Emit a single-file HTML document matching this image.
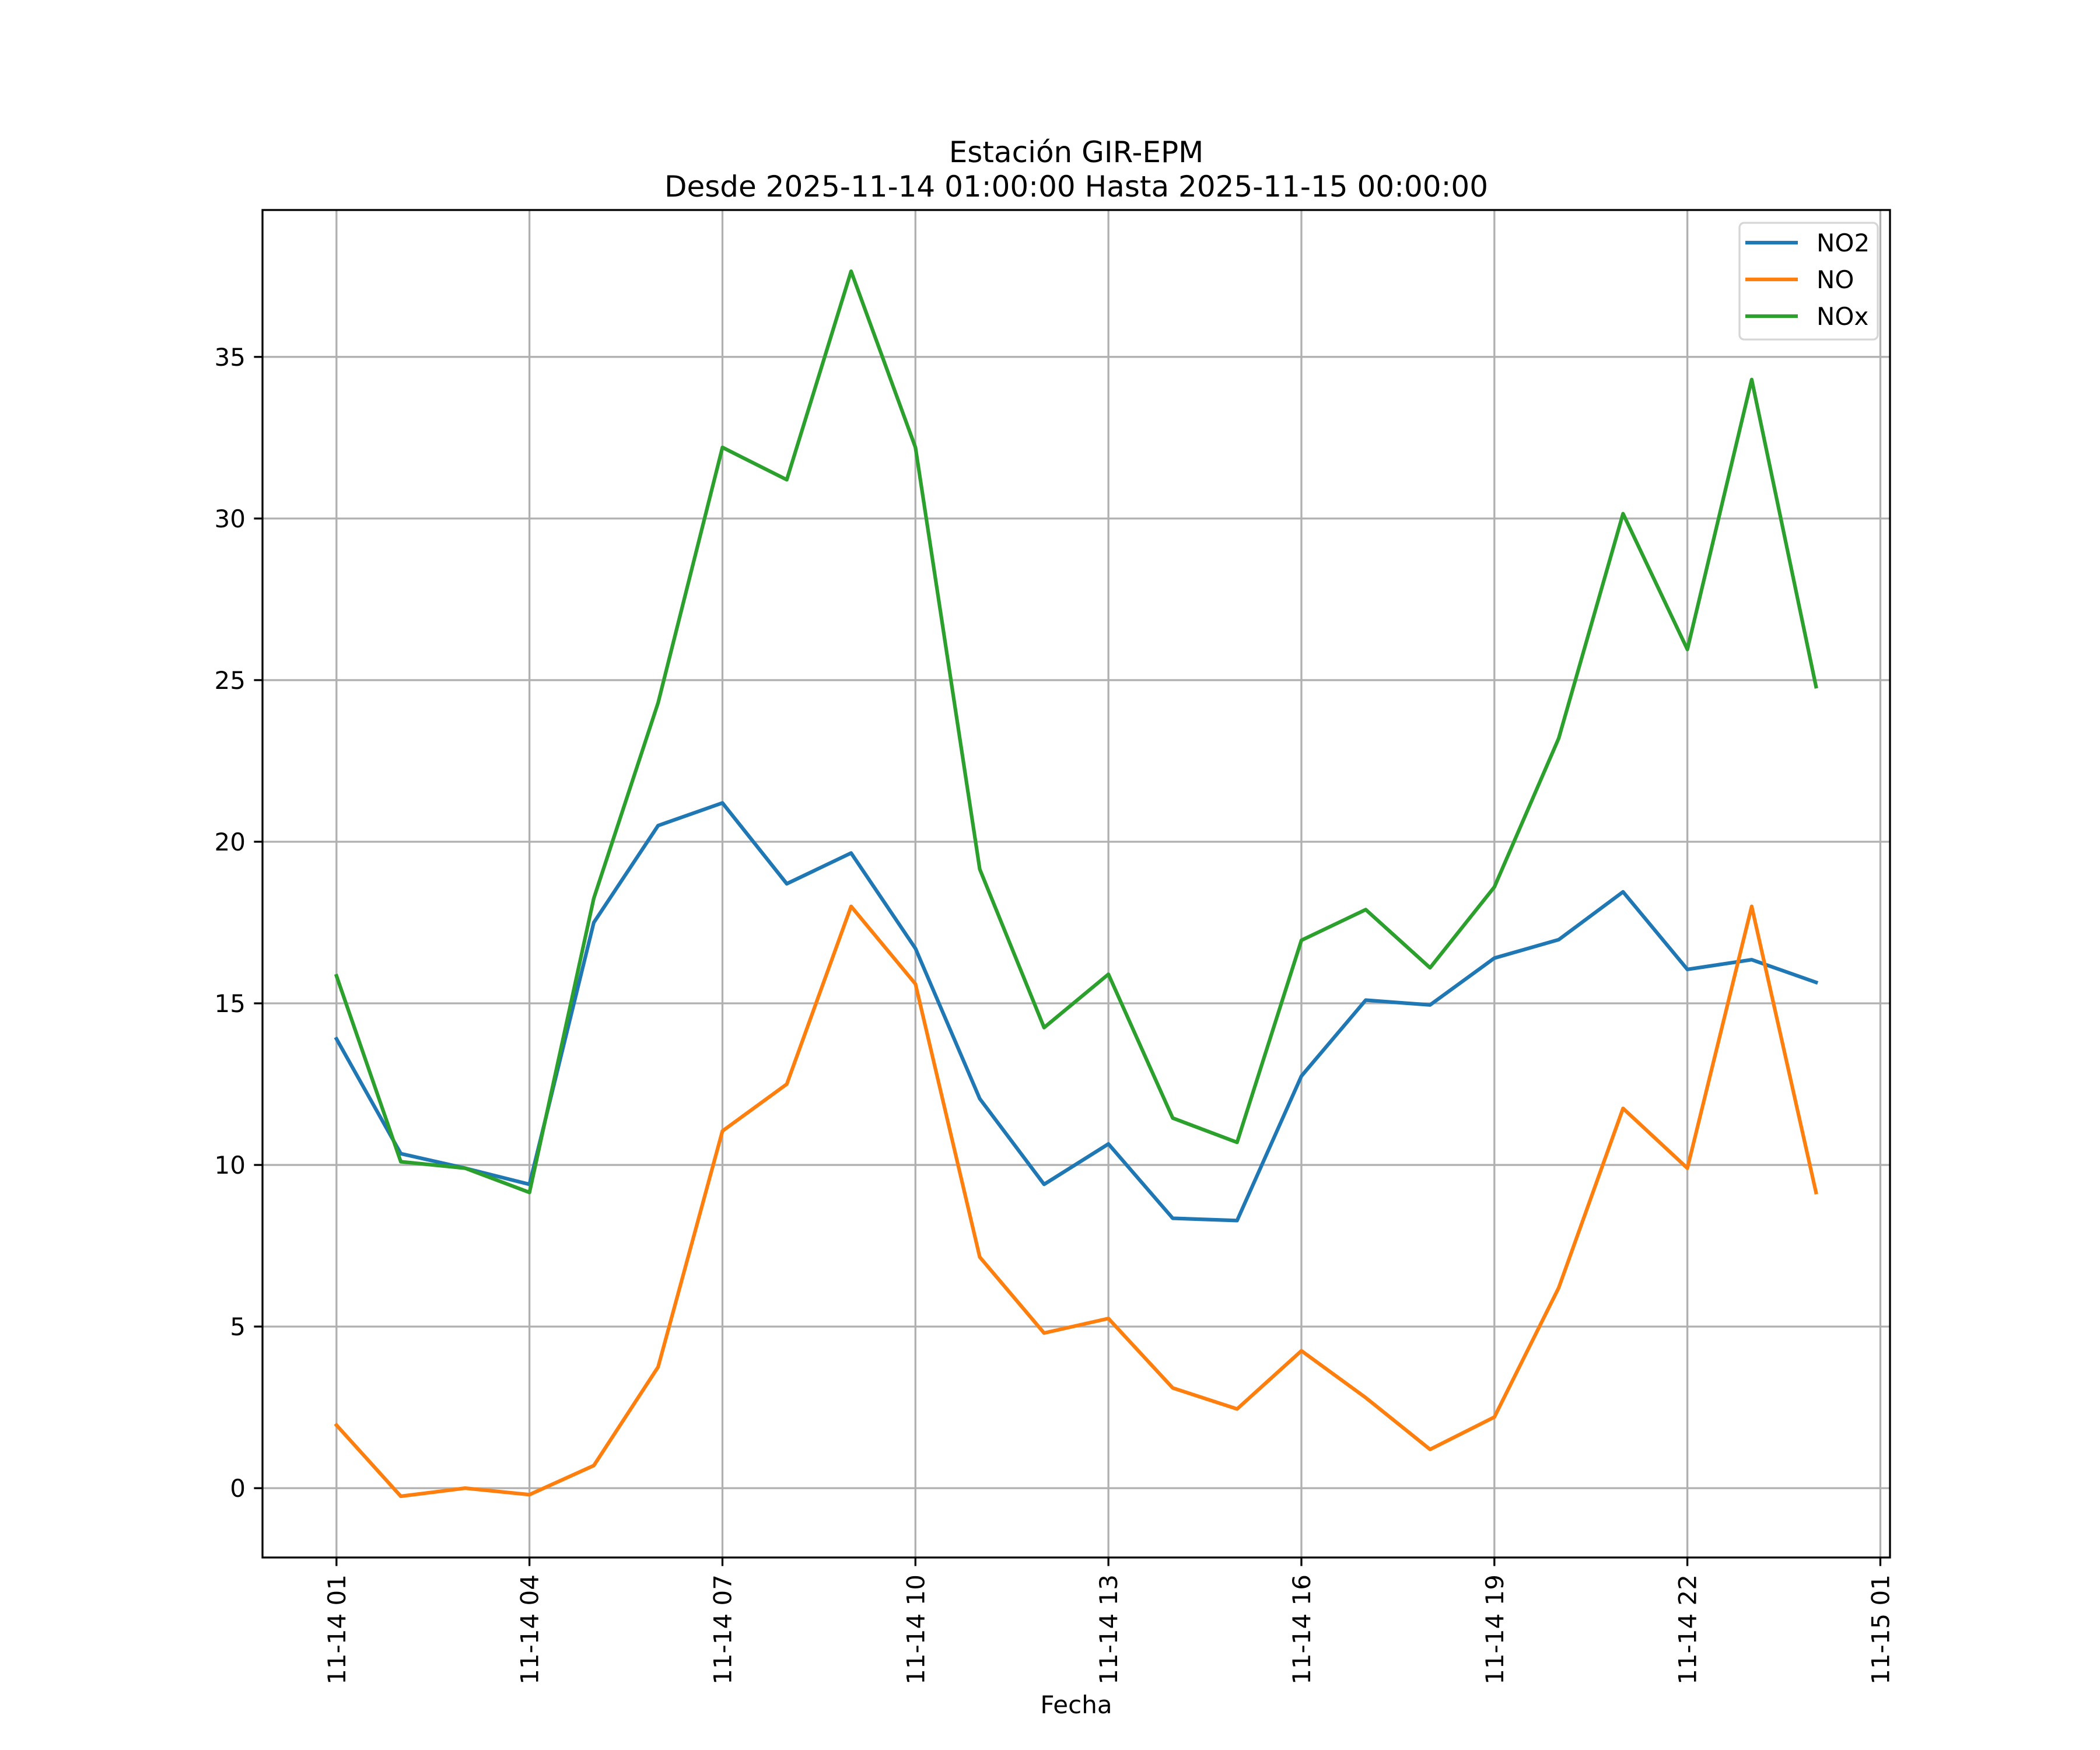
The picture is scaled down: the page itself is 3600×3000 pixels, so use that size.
<!DOCTYPE html>
<html><head><meta charset="utf-8"><style>body{margin:0;background:#fff}svg{display:block}text{font-family:"DejaVu Sans","Liberation Sans",sans-serif;fill:#000}</style></head>
<body>
<svg id="chart" width="3600" height="3000" viewBox="0 0 3600 3000" xmlns="http://www.w3.org/2000/svg">
<rect width="3600" height="3000" fill="#fff"/>
<g id="grid"></g>
<g id="series"></g>
<rect x="450" y="360" width="2790" height="2310" fill="none" stroke="#000" stroke-width="3.3"/>
<g id="ticks"></g>
<text x="1845" y="278" font-size="50" text-anchor="middle">Estación GIR-EPM</text>
<text x="1845" y="337" font-size="50" text-anchor="middle">Desde 2025-11-14 01:00:00 Hasta 2025-11-15 00:00:00</text>
<text x="1845" y="2937" font-size="42" text-anchor="middle">Fecha</text>
<g>
<rect x="2982" y="382" width="237" height="200" rx="8" fill="#fff" fill-opacity="0.8" stroke="#d6d6d6" stroke-width="3.3"/>
<g><line x1="2992" y1="416" x2="3082" y2="416" stroke="#1f77b4" stroke-width="6.25"/><text x="3114" y="431" font-size="42">NO2</text></g>
<g><line x1="2992" y1="479" x2="3082" y2="479" stroke="#ff7f0e" stroke-width="6.25"/><text x="3114" y="494" font-size="42">NO</text></g>
<g><line x1="2992" y1="542" x2="3082" y2="542" stroke="#2ca02c" stroke-width="6.25"/><text x="3114" y="557" font-size="42">NOx</text></g>
</g>
</svg>
<script>
const hours = [0,1,2,3,4,5,6,7,8,9,10,11,12,13,14,15,16,17,18,19,20,21,22,23];
const no2 = [13.9,10.35,9.9,9.4,17.5,20.5,21.2,18.7,19.65,16.7,12.05,9.4,10.65,8.35,8.28,12.75,15.1,14.95,16.4,16.97,18.45,16.05,16.35,15.65];
const no = [1.95,-0.25,0.0,-0.2,0.7,3.75,11.05,12.5,18.0,15.6,7.15,4.8,5.25,3.1,2.45,4.25,2.8,1.2,2.2,6.2,11.75,9.9,18.0,9.15];
const nox = [15.85,10.1,9.9,9.15,18.25,24.3,32.2,31.2,37.65,32.2,19.15,14.25,15.9,11.45,10.7,16.95,17.9,16.1,18.6,23.2,30.15,25.95,34.3,24.8];
const yTicks = [0,5,10,15,20,25,30,35];
const xTickHours = [0,3,6,9,12,15,18,21,24];
const xTickLabels = ["11-14 01","11-14 04","11-14 07","11-14 10","11-14 13","11-14 16","11-14 19","11-14 22","11-15 01"];

const L=450,R=3240,T=360,B=2670;
const xmin=-1.15,xmax=24.15,ymin=-2.145,ymax=39.545;
const X=h=>L+(h-xmin)/(xmax-xmin)*(R-L);
const Y=v=>B-(v-ymin)/(ymax-ymin)*(B-T);
const NS="http://www.w3.org/2000/svg";
function mk(tag,attrs,parent){const e=document.createElementNS(NS,tag);for(const k in attrs)e.setAttribute(k,attrs[k]);parent.appendChild(e);return e;}
const grid=document.getElementById('grid'),ticks=document.getElementById('ticks'),series=document.getElementById('series');
yTicks.forEach(v=>{
  const g=mk('line',{x1:L,x2:R,y1:Y(v),y2:Y(v),stroke:'#b0b0b0','stroke-width':3.3},grid);
  
  
  const t=mk('line',{x1:L-14.6,x2:L,y1:Y(v),y2:Y(v),stroke:'#000','stroke-width':3.3},ticks);
  
  
  const lb=mk('text',{x:L-29,y:Y(v)+15,'font-size':42,'text-anchor':'end'},ticks);
  lb.textContent=String(v);
  
  
});
xTickHours.forEach((h,i)=>{
  const g=mk('line',{x1:X(h),x2:X(h),y1:T,y2:B,stroke:'#b0b0b0','stroke-width':3.3},grid);
  
  
  const t=mk('line',{x1:X(h),x2:X(h),y1:B,y2:B+14.6,stroke:'#000','stroke-width':3.3},ticks);
  
  
  const x=X(h)+15,y=B+29;
  const lb=mk('text',{x:x,y:y,'font-size':42,'text-anchor':'end',transform:`rotate(-90 ${x} ${y})`},ticks);
  lb.textContent=xTickLabels[i];
  
  
});
[[no2,'#1f77b4','line-no2'],[no,'#ff7f0e','line-no'],[nox,'#2ca02c','line-nox']].forEach(([d,c,n])=>{
  const p=mk('polyline',{points:d.map((v,i)=>X(hours[i])+','+Y(v)).join(' '),fill:'none',stroke:c,'stroke-width':6.25,'stroke-linejoin':'round','stroke-linecap':'square'},series);
  
  
});
</script>
</body></html>
